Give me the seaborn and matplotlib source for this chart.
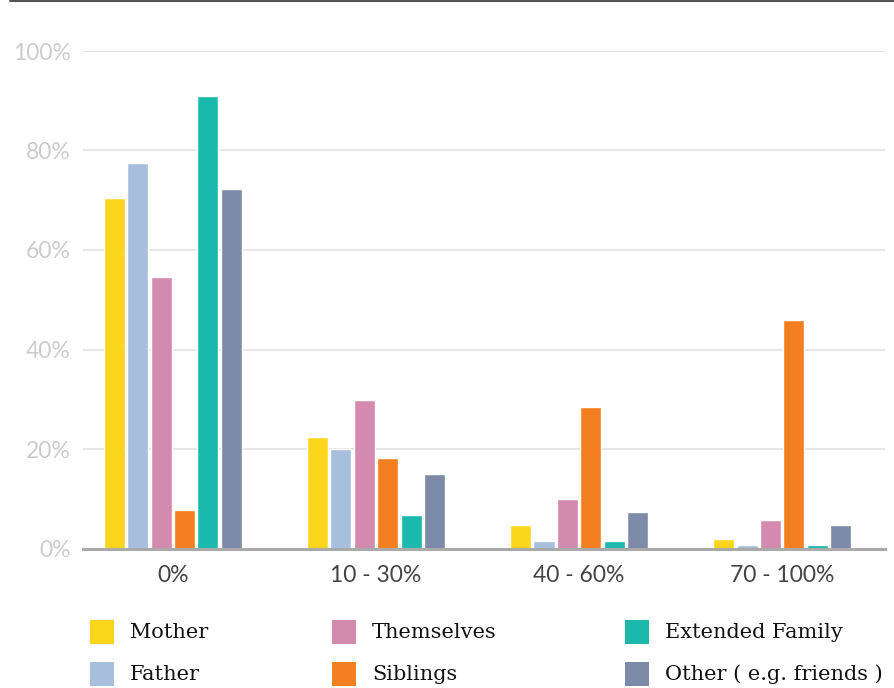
import matplotlib
matplotlib.use("Agg")
import matplotlib.pyplot as plt
import seaborn as sns
import pandas as pd
from matplotlib.patches import Rectangle
from matplotlib.lines import Line2D

categories = ["0%", "10 - 30%", "40 - 60%", "70 - 100%"]
series = ["Mother", "Father", "Themselves", "Siblings", "Extended Family", "Other ( e.g. friends )"]
mother = [70.5, 22.4, 4.7, 1.9]
father = [77.5, 20.0, 1.5, 0.7]
themselves = [54.6, 29.8, 9.9, 5.7]
siblings = [7.7, 18.2, 28.4, 46.0]
extended = [91.0, 6.7, 1.5, 0.7]
other = [72.3, 15.0, 7.3, 4.7]
yticks = [0, 20, 40, 60, 80, 100]
colors = ["#FDD51D", "#A7BFDC", "#D48AAE", "#F47F20", "#1BB9AC", "#7D8BA8"]

values = [mother, father, themselves, siblings, extended, other]
rows = []
for s, vals in zip(series, values):
    for c, v in zip(categories, vals):
        rows.append({"cat": c, "series": s, "value": v})
df = pd.DataFrame(rows)

sns.set_theme(style="white")
plt.rcParams["font.family"] = ["Lato", "DejaVu Sans"]

W, H = 894, 688
fig = plt.figure(figsize=(W / 100, H / 100), dpi=100)
ax = fig.add_axes([83 / W, 1 - 548.5 / H, (885 - 83) / W, (548.5 - 51) / H])

sns.barplot(data=df, x="cat", y="value", hue="series", order=categories,
            hue_order=series, palette=colors, width=0.69, gap=0.1,
            legend=False, ax=ax, saturation=1, err_kws={"linewidth": 0})

ax.set_ylim(0, 100)
ax.set_xlim(-0.443, 3.507)
ax.set_yticks(yticks)
ax.set_yticklabels([f"{t}%" for t in yticks])
ax.yaxis.grid(True, color="#e2e2e2", linewidth=1.2)
ax.set_axisbelow(True)
for sp in ["top", "right", "left"]:
    ax.spines[sp].set_visible(False)
ax.spines["bottom"].set_color("#aaaaaa")
ax.spines["bottom"].set_linewidth(2.2)
ax.set_xlabel("")
ax.set_ylabel("")
ax.tick_params(axis="y", length=0, pad=9, labelsize=16.5, labelcolor="#cccccc")
ax.tick_params(axis="x", length=0, pad=12, labelsize=16.5, labelcolor="#444444")

# top rule
fig.add_artist(Line2D([10 / W, 1], [1 - 1 / H, 1 - 1 / H], color="#555555", linewidth=1.5,
                      transform=fig.transFigure))

# legend
col_x = [90, 332, 625]
row_y = [632, 674]
for i, (name, col) in enumerate(zip(series, colors)):
    cx = col_x[i // 2]
    cy = row_y[i % 2]
    fig.add_artist(Rectangle((cx / W, 1 - (cy + 12) / H), 24 / W, 24 / H,
                             transform=fig.transFigure, color=col, linewidth=0))
    fig.text((cx + 40) / W, 1 - cy / H, name, ha="left", va="center",
             fontsize=15, color="#111111", family=["DejaVu Serif"])

fig.savefig("out.png", dpi=100)
